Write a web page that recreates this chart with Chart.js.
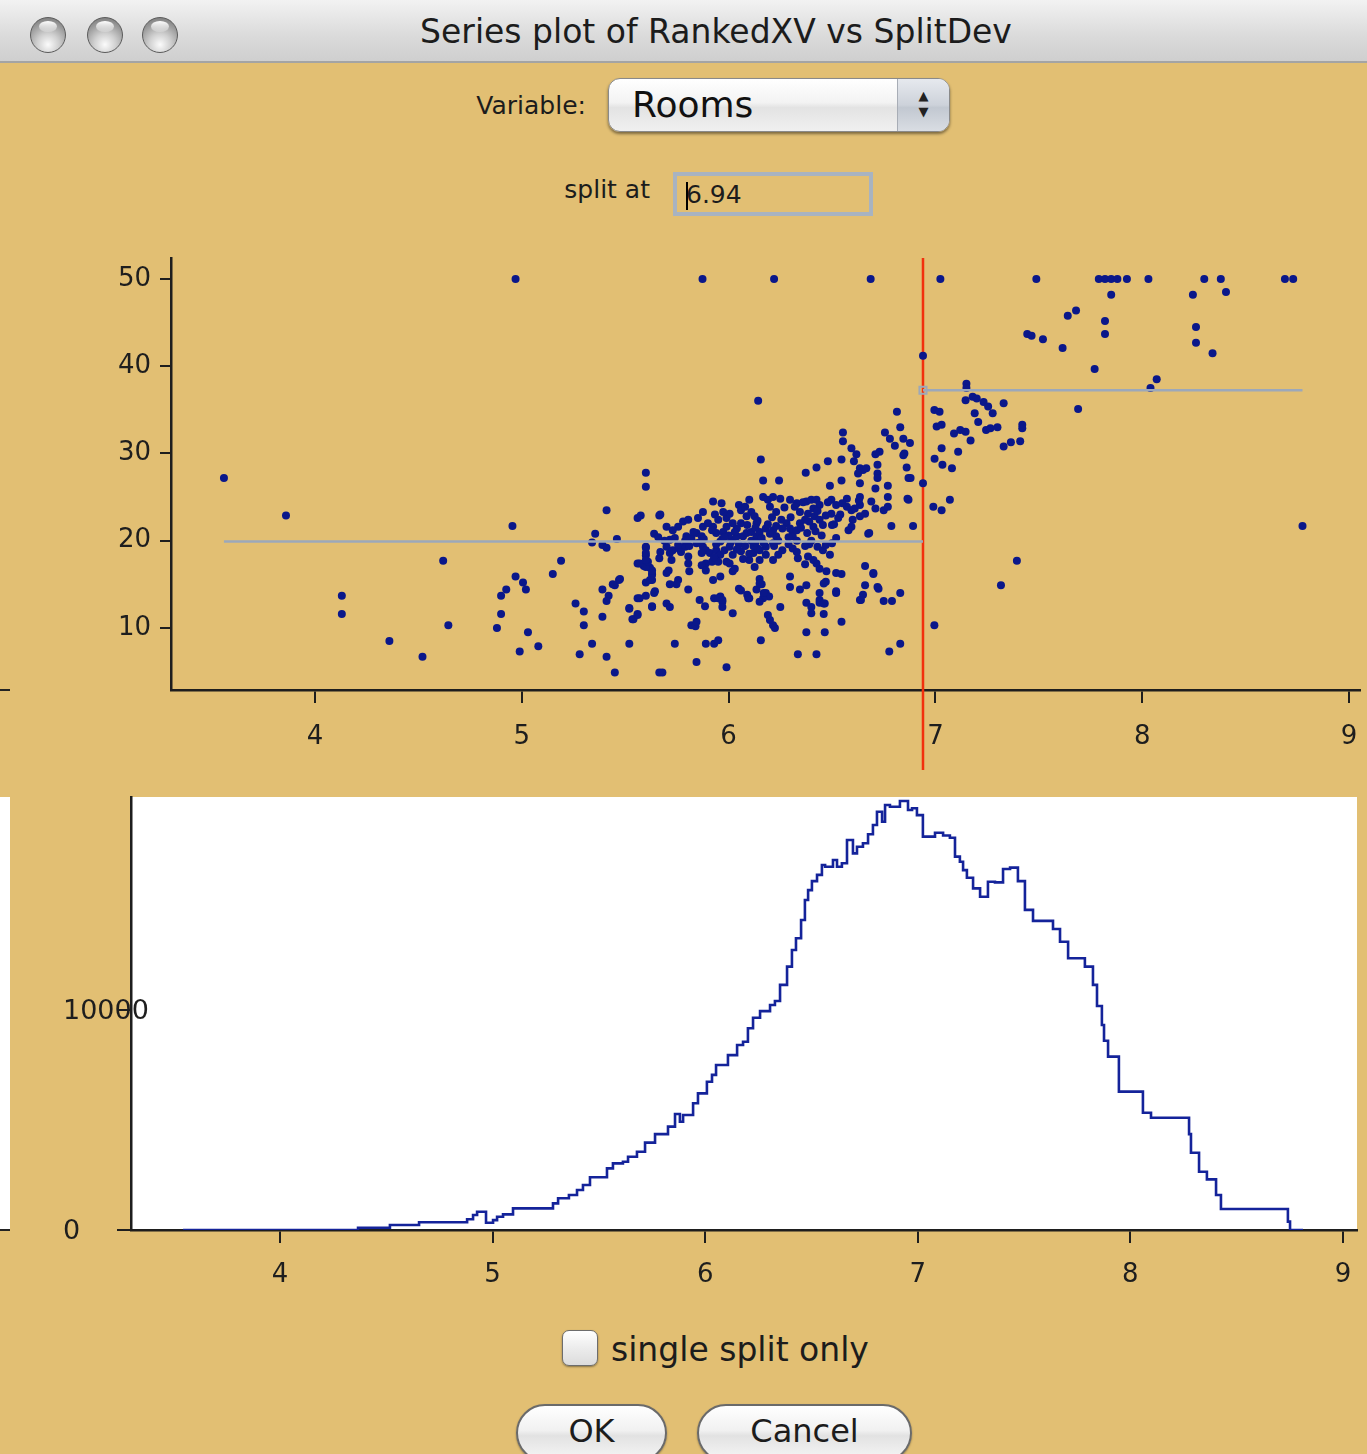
<!DOCTYPE html>
<html>
<head>
<meta charset="utf-8">
<title>Series plot of RankedXV vs SplitDev</title>
<script src="https://cdn.jsdelivr.net/npm/chart.js@4.4.1/dist/chart.umd.min.js"></script>
<style>
  body { margin: 0; width: 1367px; height: 1454px; background: #e2bf73; position: relative; overflow: hidden;
         font-family: "DejaVu Sans", "Open Sans", sans-serif; color: #1c1c1c; }
  .abs { position: absolute; }
  .titlebar { left: 0; top: 0; width: 1367px; height: 61px; background: linear-gradient(#f2f2f2, #dadada 60%, #cfcfcf);
              border-bottom: 2px solid #a4a4a4; }
  .light { top: 17px; width: 36px; height: 36px; border-radius: 50%; box-sizing: border-box; border: 1.5px solid #5c5c5c;
           background: radial-gradient(circle at 50% 78%, #fbfbfb 0%, #cfcfcf 35%, #8f8f8f 75%, #6b6b6b 100%); }
  .light::after { content: ""; position: absolute; left: 8px; top: 3px; width: 18px; height: 11px; border-radius: 50%;
                  background: linear-gradient(#ffffff, rgba(255,255,255,0.2)); }
  .title { left: 366px; top: 12px; width: 700px; text-align: center; font-size: 33px; }
  .label { font-size: 25px; text-align: right; }
  .popup { left: 608px; top: 78px; width: 342px; height: 54px; box-sizing: border-box; border-radius: 12px;
           border: 1px solid #8a8a8a; background: linear-gradient(#ffffff, #f3f3f3 45%, #e3e3e3 55%, #f0f0f0);
           box-shadow: 0 2px 3px rgba(0,0,0,0.45); overflow: hidden; }
  .popup .txt { position: absolute; left: 23px; top: 5px; font-size: 36px; color: #111; }
  .popup .arrows { position: absolute; right: 0; top: 0; width: 52px; height: 100%; border-left: 1px solid #a8adb6;
                   background: linear-gradient(#e6e9ee, #cdd2da 50%, #c2c8d1 55%, #d9dde3); font-size: 13px;
                   line-height: 16px; text-align: center; padding-top: 9px; box-sizing: border-box; color: #222; }
  .field { left: 673px; top: 172px; width: 200px; height: 44px; box-sizing: border-box; border: 4px solid #a8b3c1; }
  .field .txt { position: absolute; left: 9px; top: 4px; font-size: 25px; }
  .field .caret { position: absolute; left: 9px; top: 6px; width: 2px; height: 28px; background: #000; }
  .check { left: 562px; top: 1330px; width: 36px; height: 36px; box-sizing: border-box; border-radius: 7px;
           border: 1.5px solid #6d6d6d; background: linear-gradient(#ffffff, #ececec 50%, #dcdcdc); box-shadow: 0 1px 2px rgba(0,0,0,0.4); }
  .btn { top: 1404px; height: 58px; box-sizing: border-box; border-radius: 29px; border: 2px solid #6a6a6a;
         background: linear-gradient(#ffffff, #f1f1f1 45%, #e2e2e2 55%, #f6f6f6); font-size: 32px; text-align: center;
         line-height: 50px; box-shadow: 0 1px 2px rgba(0,0,0,0.35); }
  canvas { position: absolute; left: 0; }
</style>
</head>
<body>

<div class="abs titlebar"></div>
<div class="abs light" style="left:30px"></div>
<div class="abs light" style="left:87px"></div>
<div class="abs light" style="left:142px"></div>
<div class="abs title">Series plot of RankedXV vs SplitDev</div>

<div class="abs label" style="left:400px; top:91px; width:186px;">Variable:</div>
<div class="abs popup"><div class="txt">Rooms</div><div class="arrows">▲<br>▼</div></div>

<div class="abs label" style="left:480px; top:175px; width:170px;">split at</div>
<div class="abs field"><div class="txt">6.94</div><div class="caret"></div></div>

<!-- left edge bits of a neighbouring panel -->
<div class="abs" style="left:0; top:689px; width:10px; height:2px; background:#222;"></div>
<div class="abs" style="left:0; top:797px; width:10px; height:433px; background:#fff;"></div>
<div class="abs" style="left:0; top:1229px; width:10px; height:2px; background:#222;"></div>

<canvas id="scatterChart" width="1367" height="540" style="top:240px"></canvas>
<canvas id="devChart" width="1367" height="525" style="top:785px"></canvas>

<div class="abs check"></div>
<div class="abs" style="left:611px; top:1330px; font-size:33px;">single split only</div>
<div class="abs btn" style="left:516px; width:151px;">OK</div>
<div class="abs btn" style="left:697px; width:215px;">Cancel</div>

<script>
// ---- data ----
const splitAt = 6.94;
const leftMean = 19.9;
const rightMean = 37.24;

const xTicks = [4, 5, 6, 7, 8, 9];
const yTicksScatter = [10, 20, 30, 40, 50];
const yTicksDev = [0, 10000];

// rooms vs value
const roomsVsValue = [
  // top row (censored at 50)
  [4.97,50],[5.874,50],[6.22,50],[6.687,50],[7.024,50],[7.488,50],[7.79,50],[7.82,50],[7.85,50],[7.88,50],
  [7.926,50],[8.03,50],[8.30,50],[8.38,50],[8.69,50],[8.73,50],
  // left, sparse
  [3.56,27.2],[3.86,22.9],[4.13,13.7],[4.13,11.6],[4.36,8.5],[4.52,6.7],[4.62,17.7],[4.645,10.3],[4.88,10.0],
  [4.90,13.7],[4.90,11.6],[4.925,14.4],[4.955,21.7],[4.97,15.9],[5.006,15.2],[5.02,14.4],[5.03,9.5],[4.99,7.3],
  [5.08,7.9],[5.15,16.2],[5.19,17.7],
  // 5.25 - 5.67
  [5.26,12.8],[5.30,11.9],[5.30,10.3],[5.34,8.2],[5.28,7.0],[5.41,6.7],[5.45,4.9],[5.39,11.3],[5.39,14.4],
  [5.42,13.7],[5.41,13.1],[5.45,14.9],[5.47,15.5],[5.355,20.8],[5.34,19.8],[5.39,19.5],[5.41,19.2],[5.46,20.2],
  [5.41,23.5],[5.52,12.2],[5.535,11.0],[5.56,11.6],[5.52,8.2],[5.56,13.4],[5.60,13.7],[5.64,14.0],[5.63,12.5],
  [5.60,27.8],[5.60,26.2],[5.56,22.6],[5.575,22.9],[5.64,20.8],[5.60,19.2],[5.60,18.3],[5.56,17.4],[5.59,17.1],
  [5.62,16.9],[5.60,15.2],[5.63,15.5],[5.63,16.2],[5.665,22.9],[5.665,18.0],[5.665,4.9],[5.44,15.0],[5.475,15.6],
  [5.57,13.4],[5.54,11.0],[5.56,11.5],[5.52,12.3],[5.63,12.4],[5.644,14.2],
  // main cloud, upper part
  [6.143,36.05],[6.156,29.3],[6.167,26.9],[6.244,26.9],[6.553,32.4],[6.553,31.4],[6.814,34.8],[6.83,33.0],
  [6.756,32.4],[6.78,31.7],[6.804,30.9],[6.845,31.7],[6.877,31.2],[6.594,30.6],[6.618,29.9],[6.546,29.3],
  [6.606,29.1],[6.73,30.2],[6.71,29.9],[6.845,29.8],[6.861,28.4],[6.87,27.2],[6.72,28.7],[6.72,27.7],[6.72,27.2],
  [6.635,28.3],[6.65,28.1],[6.666,28.3],[6.626,27.7],[6.48,29.1],[6.425,28.4],[6.373,27.8],[6.49,26.3],
  [6.546,26.9],[6.635,26.6],[6.71,26.0],[6.77,26.3],[6.94,26.6],[6.865,24.8],[6.71,23.7],[6.75,23.5],[6.77,23.9],
  [6.787,21.7],[6.892,21.7],[6.675,20.8],[6.85,30.0],[6.88,27.2],[6.77,25.0],[6.87,24.7],[6.68,20.9],
  // main cloud, lower part
  [5.68,4.9],[5.74,8.2],[5.845,6.1],[5.89,8.2],[5.93,8.2],[5.95,8.6],[5.99,5.5],[5.82,10.3],[5.84,10.2],
  [5.845,10.7],[6.156,8.6],[6.335,7.0],[6.425,7.0],[6.376,9.5],[6.465,9.5],[6.546,10.7],[6.777,7.3],[6.83,8.2],
  [6.635,13.2],[6.65,13.8],[6.75,13.1],[6.79,13.1],[6.83,14.0],[6.72,14.7],[6.66,14.9],[6.70,16.2],[6.66,17.1],
  [6.546,16.2],[6.52,14.0],[6.44,14.0],[6.44,12.9],[6.465,12.8],[6.46,11.6],[6.376,12.9],[6.40,12.4],[6.40,11.7],
  [6.297,15.9],[6.297,14.7],[6.345,14.4],[6.376,14.9],[6.47,15.3],[6.473,16.5],[6.44,16.8],[6.425,17.4],
  [6.41,17.8],[6.384,18.2],[6.37,17.3],[6.456,18.9],[6.49,18.4],[6.47,19.5],[6.50,19.7],[6.335,18.0],[6.31,19.1],
  [6.24,18.4],[6.215,17.8],[6.15,15.6],[6.16,15.0],[6.135,14.4],[6.18,14.0],[6.196,13.6],[6.167,13.4],[6.15,13.0],
  [6.10,13.4],[6.09,13.8],[6.05,14.5],[6.06,14.3],[6.02,11.7],[5.96,13.6],[5.97,13.0],[5.93,13.4],[5.97,12.4],
  [5.86,13.2],[5.886,12.5],[5.805,14.4],[5.756,15.5],[5.748,15.0],[5.716,15.0],[5.70,12.8],[5.716,12.4],
  [6.215,10.3],[6.20,10.9],[6.224,10.0],[6.19,11.5],[6.25,12.4],[6.02,16.5],[6.03,16.8],[5.99,17.6],[6.005,17.4],
  [5.96,15.9],[5.925,15.5],[5.81,16.5],[5.70,16.3],[5.71,16.6],[5.63,16.1],[5.62,15.5],[5.63,16.6],[5.60,17.0],
  [5.61,17.6],[5.57,17.4],[5.95,13.4],[5.97,13.2],[6.095,13.4],[6.17,14.0],[6.15,15.1],[6.70,16.3],[6.725,14.5],
  [6.64,13.2],[6.52,16.3],[6.52,14.2],[6.46,15.1],[6.44,13.2],[6.46,12.8],
  // main cloud, dense band
  [5.60,19.3],[5.60,18.6],[5.60,17.8],[5.67,18.7],[5.70,19.3],[5.716,18.6],[5.73,18.9],[5.724,17.8],[5.67,23.0],
  [5.70,21.6],[5.756,21.6],[5.78,22.2],[5.805,22.4],[5.76,19.1],[5.79,19.3],[5.805,18.2],[5.805,17.4],[5.845,19.7],
  [5.845,20.9],[5.87,20.5],[5.876,21.6],[5.852,22.6],[5.876,23.3],[5.925,24.5],[5.966,24.3],[5.934,23.0],
  [5.925,21.6],[5.94,20.9],[5.974,21.0],[5.876,19.3],[5.89,18.9],[5.91,18.6],[5.92,17.6],[5.94,18.9],[5.96,18.4],
  [5.98,18.9],[6.005,19.3],[6.02,20.1],[6.04,20.5],[6.07,20.5],[6.087,20.9],[5.89,17.4],[5.87,17.2],[5.95,17.6],
  [6.05,24.1],[6.06,23.5],[6.08,23.9],[6.10,24.7],[6.11,23.3],[6.126,22.8],[6.135,22.0],[6.087,22.8],[6.06,22.0],
  [6.04,21.4],[6.02,22.0],[5.99,22.6],[6.005,23.1],[5.974,23.3],[6.11,21.0],[6.135,20.5],[6.15,21.0],[6.18,21.4],
  [6.215,21.2],[6.23,20.5],[6.215,19.7],[6.18,19.3],[6.15,18.9],[6.12,18.6],[6.10,17.8],[6.126,17.0],[6.15,17.8],
  [6.14,19.1],[6.167,25.0],[6.19,24.7],[6.215,25.0],[6.25,24.8],[6.20,23.9],[6.23,23.3],[6.255,22.4],[6.28,22.0],
  [6.297,21.4],[6.31,21.0],[6.31,20.5],[6.297,24.7],[6.33,24.3],[6.345,23.3],[6.376,24.5],[6.40,24.7],[6.425,24.7],
  [6.44,24.1],[6.41,23.7],[6.384,23.1],[6.416,22.8],[6.44,22.4],[6.456,21.8],[6.41,21.6],[6.39,22.2],[6.37,22.4],
  [6.345,22.0],[6.33,21.2],[6.497,24.7],[6.52,24.1],[6.497,23.1],[6.54,23.0],[6.572,24.8],[6.572,23.9],[6.594,23.5],
  [6.60,22.4],[6.594,21.6],[6.635,25.0],[6.635,24.1],[6.635,22.8],[6.50,21.8],[6.52,20.3],[5.716,20.1],[5.74,20.3],
  [5.756,19.5],[5.796,20.5],[5.82,20.3],
  [5.90,22.0],[5.92,21.2],[5.95,22.4],[5.97,20.2],[5.99,21.6],[6.00,20.6],[6.01,19.8],[6.03,21.0],[6.05,19.6],
  [6.06,18.8],[6.08,19.4],[6.09,21.8],[6.11,20.0],[6.12,19.4],[6.13,21.5],[6.14,22.3],[6.16,20.3],[6.17,19.7],
  [6.19,21.9],[6.20,20.8],[6.21,22.7],[6.23,21.7],[6.24,20.0],[6.26,21.4],[6.27,23.8],[6.29,20.4],[6.30,22.7],
  [6.32,23.9],[6.33,20.0],[6.35,21.5],[6.36,24.4],[6.38,20.9],[6.39,19.6],[6.42,21.1],[6.43,23.4],[6.45,20.6],
  [6.47,22.9],[6.48,24.4],[6.51,21.9],[6.53,22.6],[6.55,24.3],[6.58,21.2],[6.61,23.7],[6.63,24.6],[6.66,23.1],
  [6.69,24.5],[5.86,19.8],[5.88,20.2],[5.94,19.6],[5.96,19.9],[5.98,20.4],[6.02,18.4],[6.04,19.0],[6.07,17.9],
  [6.10,18.5],[6.13,19.8],[5.83,21.0],[5.81,19.4],[5.79,20.0],[5.77,18.7],[5.73,21.2],[5.69,20.0],[5.66,20.4],
  [5.93,18.1],[5.89,16.6],[5.87,18.6],[6.18,18.4],[6.22,19.4],[6.26,18.9],[6.29,19.6],[6.33,18.7],[6.37,19.4],
  [6.40,20.0],[6.43,19.3],
  // right of the split
  [6.995,35.0],[7.006,33.1],[7.03,33.3],[7.03,30.6],[6.996,29.4],[6.99,23.9],[7.03,23.5],[6.995,10.3],
  [7.85,48.2],[8.245,48.2],[8.405,48.5],[7.64,45.8],[7.68,46.4],[7.82,45.2],[7.82,43.7],[8.26,44.5],[8.26,42.7],
  [8.34,41.5],[7.444,43.7],[7.465,43.5],[7.52,43.1],[7.615,42.1],[7.77,39.7],[8.04,37.5],[8.07,38.5],[7.69,35.1],
  [6.94,41.2],[8.775,21.7],[7.394,17.7],[7.317,14.9],[7.15,38.0],[7.15,37.5],[7.146,36.1],[7.18,36.5],[7.20,36.3],
  [7.233,35.9],[7.255,35.4],[7.277,34.6],[7.33,35.75],[7.19,34.6],[7.207,33.6],[7.245,32.7],[7.266,32.9],
  [7.30,33.0],[7.42,33.3],[7.42,32.9],[7.09,32.3],[7.12,32.7],[7.146,32.5],[7.17,31.5],[7.02,34.8],[7.034,28.7],
  [7.08,28.3],[7.11,30.2],[7.33,30.8],[7.365,31.3],[7.41,31.4],[7.07,24.7]
];

// split point vs deviance reduction (step trace)
const splitDeviance = [
  [3.544,0],[4.367,100],[4.517,230],[4.654,350],[4.880,490],[4.908,680],[4.927,830],[4.969,330],[5.002,450],
  [5.021,600],[5.049,710],[5.096,985],[5.284,1210],[5.308,1440],[5.359,1590],[5.397,1820],[5.425,2045],
  [5.458,2400],[5.538,2800],[5.566,3030],[5.613,3100],[5.637,3330],[5.679,3560],[5.717,3970],[5.764,4360],
  [5.825,4700],[5.858,5270],[5.881,4920],[5.896,5230],[5.943,5760],[5.966,6210],[6.008,6740],[6.032,7050],
  [6.051,7500],[6.107,7950],[6.150,8410],[6.178,8560],[6.201,9170],[6.225,9650],[6.258,9950],[6.305,10230],
  [6.328,10410],[6.352,11140],[6.385,11970],[6.408,12730],[6.427,13260],[6.451,14090],[6.469,15000],
  [6.484,15450],[6.502,15860],[6.526,16140],[6.549,16590],[6.564,16510],[6.601,16820],[6.620,16510],
  [6.643,16670],[6.667,17730],[6.695,17120],[6.714,17420],[6.742,17580],[6.766,17990],[6.789,18410],
  [6.808,19010],[6.832,18560],[6.846,19320],[6.869,19240],[6.916,19500],[6.954,19090],[6.973,19170],
  [6.996,18860],[7.024,17880],[7.081,18060],[7.119,17930],[7.151,17830],[7.175,16970],[7.198,16740],
  [7.213,16360],[7.231,16010],[7.260,15530],[7.293,15150],[7.330,15830],[7.363,15800],[7.401,16410],
  [7.434,16470],[7.471,15860],[7.504,14550],[7.542,14050],[7.636,13680],[7.669,13100],[7.707,12350],
  [7.786,11970],[7.824,11140],[7.843,10180],[7.866,9320],[7.876,8600],[7.895,7880],[7.946,6290],[8.059,5330],
  [8.097,5100],[8.276,4360],[8.285,3510],[8.323,2650],[8.360,2300],[8.403,1590],[8.426,955],[8.741,380],
  [8.751,0],[8.812,0]
];

// ---- styling ----
const navy = "#0a178a";
const axisColor = "#1e1e1e";
const tickFont = { family: "DejaVu Sans", size: 26 };

const fixedTicks = (values) => (scale) => { scale.ticks = values.map(v => ({ value: v })); };
// pin axis boxes to the sizes in the picture, drop the label overflow padding
const pinSize = (prop, size) => (scale) => {
  scale[prop] = size;
  scale.paddingTop = 0; scale.paddingBottom = 0; scale.paddingLeft = 0; scale.paddingRight = 0;
};

const xMin = Math.min(...roomsVsValue.map(p => p[0]));
const xMax = Math.max(...roomsVsValue.map(p => p[0]));

// red split line, drawn through the x axis area as in the original
const splitLinePlugin = {
  id: "splitLine",
  beforeDatasetsDraw(chart) {
    const { ctx, chartArea, scales } = chart;
    const x = scales.x.getPixelForValue(splitAt);
    ctx.save();
    ctx.strokeStyle = "#f2300c";
    ctx.lineWidth = 2.5;
    ctx.beginPath();
    ctx.moveTo(x, chartArea.top);
    ctx.lineTo(x, chartArea.bottom + 80);
    ctx.stroke();
    ctx.restore();
  }
};

// white plot panel; the y labels are left aligned and run into the axis, so they
// are written here (under the axis) instead of inside the clipped scale box
const whiteAreaPlugin = {
  id: "whiteArea",
  beforeDraw(chart) {
    const { ctx, chartArea, scales } = chart;
    ctx.save();
    ctx.fillStyle = "#ffffff";
    ctx.fillRect(chartArea.left, chartArea.top, chartArea.right - chartArea.left, chartArea.bottom - chartArea.top);
    ctx.fillStyle = axisColor;
    ctx.font = '27px "DejaVu Sans"';
    ctx.textAlign = "left";
    ctx.textBaseline = "middle";
    scales.y.ticks.forEach(t => {
      ctx.fillText(String(t.value), scales.y.left, scales.y.getPixelForValue(t.value) + 2);
    });
    ctx.restore();
  }
};

// ---- top: scatter with the split ----
new Chart(document.getElementById("scatterChart").getContext("2d"), {
  type: "scatter",
  data: {
    datasets: [
      {
        label: "left mean",
        type: "line",
        data: [{ x: xMin, y: leftMean }, { x: splitAt, y: leftMean }],
        borderColor: "#9ca8ba",
        borderWidth: 2.5,
        pointRadius: 0,
        order: 0
      },
      {
        label: "right mean",
        type: "line",
        data: [{ x: splitAt, y: rightMean }, { x: xMax, y: rightMean }],
        borderColor: "#9ca8ba",
        borderWidth: 2.5,
        pointRadius: [5, 0],
        pointStyle: "rect",
        pointBorderColor: "#9ca8ba",
        pointBorderWidth: 2,
        pointBackgroundColor: "rgba(0,0,0,0)",
        order: 0
      },
      {
        label: "RankedXV",
        data: roomsVsValue.map(p => ({ x: p[0], y: p[1] })),
        backgroundColor: navy,
        borderWidth: 0,
        pointRadius: 4,
        order: 1
      }
    ]
  },
  options: {
    responsive: false,
    animation: false,
    devicePixelRatio: 1,
    layout: { padding: { top: 18, right: 7, left: 0, bottom: 0 } },
    plugins: { legend: { display: false }, tooltip: { enabled: false } },
    scales: {
      x: {
        type: "linear",
        min: 3.304,
        max: 9.053,
        afterBuildTicks: fixedTicks(xTicks),
        afterFit: pinSize("height", 90),
        border: { display: true, color: axisColor, width: 2.5 },
        grid: { drawOnChartArea: false, drawTicks: true, tickLength: 13, color: axisColor, lineWidth: 2 },
        ticks: { color: axisColor, font: tickFont, padding: 19, maxRotation: 0 }
      },
      y: {
        type: "linear",
        min: 2.89,
        max: 52.41,
        afterBuildTicks: fixedTicks(yTicksScatter),
        afterFit: pinSize("width", 171),
        border: { display: true, color: axisColor, width: 2.5 },
        grid: { drawOnChartArea: false, drawTicks: true, tickLength: 11, color: axisColor, lineWidth: 2 },
        ticks: { color: axisColor, font: tickFont, padding: 9 }
      }
    }
  },
  plugins: [splitLinePlugin]
});

// ---- bottom: deviance by split point ----
new Chart(document.getElementById("devChart").getContext("2d"), {
  type: "line",
  data: {
    datasets: [{
      label: "SplitDev",
      data: splitDeviance.map(p => ({ x: p[0], y: p[1] })),
      stepped: true,
      borderColor: "#14239a",
      borderWidth: 2.6,
      pointRadius: 0,
      fill: false
    }]
  },
  options: {
    responsive: false,
    animation: false,
    devicePixelRatio: 1,
    layout: { padding: { top: 12, right: 10, left: 63, bottom: 0 } },
    plugins: { legend: { display: false }, tooltip: { enabled: false } },
    scales: {
      x: {
        type: "linear",
        min: 3.299,
        max: 9.066,
        afterBuildTicks: fixedTicks(xTicks),
        afterFit: pinSize("height", 80),
        border: { display: true, color: axisColor, width: 2.5 },
        grid: { drawOnChartArea: false, drawTicks: true, tickLength: 13, color: axisColor, lineWidth: 2 },
        ticks: { color: axisColor, font: tickFont, padding: 17, maxRotation: 0 }
      },
      y: {
        type: "linear",
        min: 0,
        max: 19682,
        afterBuildTicks: fixedTicks(yTicksDev),
        afterFit: pinSize("width", 68),
        border: { display: true, color: axisColor, width: 2.5 },
        grid: { drawOnChartArea: false, drawTicks: true, tickLength: 14, color: axisColor, lineWidth: 2 },
        ticks: { display: false }
      }
    }
  },
  plugins: [whiteAreaPlugin]
});
</script>
</body>
</html>
